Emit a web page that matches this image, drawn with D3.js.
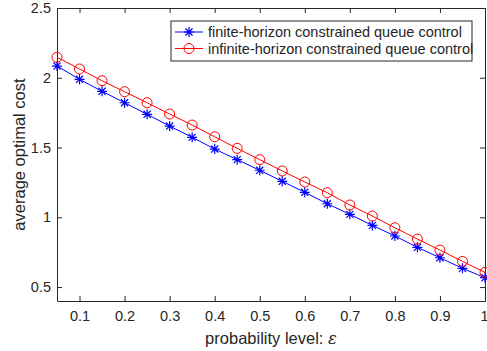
<!DOCTYPE html>
<html>
<head>
<meta charset="utf-8">
<script src="https://cdn.jsdelivr.net/npm/d3@7"></script>
<style>
  body { margin: 0; background: #fff; }
  text { font-family: "Liberation Sans", Arial, sans-serif; fill: #262626; }
</style>
</head>
<body>
<div id="chart"></div>
<script>
const epsilon = [0.05, 0.1, 0.15, 0.2, 0.25, 0.3, 0.35, 0.4, 0.45, 0.5,
                 0.55, 0.6, 0.65, 0.7, 0.75, 0.8, 0.85, 0.9, 0.95, 1];
const finiteCost = [2.084, 1.989, 1.903, 1.821, 1.738, 1.654, 1.573, 1.489, 1.413, 1.337,
                    1.258, 1.179, 1.097, 1.021, 0.942, 0.866, 0.785, 0.710, 0.634, 0.567];
const infiniteCost = [2.147, 2.063, 1.979, 1.900, 1.821, 1.740, 1.661, 1.577, 1.494, 1.413,
                      1.332, 1.253, 1.176, 1.088, 1.009, 0.925, 0.844, 0.765, 0.684, 0.605];
const xTicks = [0.1, 0.2, 0.3, 0.4, 0.5, 0.6, 0.7, 0.8, 0.9, 1];
const yTicks = [0.5, 1, 1.5, 2, 2.5];
const seriesNames = ["finite-horizon constrained queue control", "infinite-horizon constrained queue control"];

const width = 487, height = 351;
const margin = {top: 8, right: 2, bottom: 50, left: 57};
const axisColor = "#262626";

const svg = d3.select("#chart").append("svg")
    .attr("width", width)
    .attr("height", height);

const x = d3.scaleLinear().domain([0.05, 1]).range([margin.left, width - margin.right]);
const y = d3.scaleLinear().domain([0.4, 2.5]).range([height - margin.bottom, margin.top]);

const fmt = d => d3.format("")(d);

// axes (box with inward ticks)
const gx = svg.append("g")
    .attr("transform", `translate(0,${y(0.4)})`)
    .call(d3.axisBottom(x).tickValues(xTicks).tickFormat(fmt).tickSizeInner(-5).tickSizeOuter(0).tickPadding(10));
const gxTop = svg.append("g")
    .attr("transform", `translate(0,${y(2.5)})`)
    .call(d3.axisTop(x).tickValues(xTicks).tickFormat("").tickSizeInner(-5).tickSizeOuter(0));
const gy = svg.append("g")
    .attr("transform", `translate(${x(0.05)},0)`)
    .call(d3.axisLeft(y).tickValues(yTicks).tickFormat(fmt).tickSizeInner(-5).tickSizeOuter(0).tickPadding(6));
const gyRight = svg.append("g")
    .attr("transform", `translate(${x(1)},0)`)
    .call(d3.axisRight(y).tickValues(yTicks).tickFormat("").tickSizeInner(-5).tickSizeOuter(0));

[gx, gxTop, gy, gyRight].forEach(g => {
    g.select(".domain").attr("stroke", axisColor).attr("stroke-width", 1);
    g.selectAll(".tick line").attr("stroke", axisColor);
    g.selectAll(".tick text").style("font-size", "14.5px").attr("fill", axisColor)
        .style("font-family", "'Liberation Sans', Arial, sans-serif");
});
// keep the last x label inside the window
gx.selectAll(".tick text").filter(d => d === 1).attr("text-anchor", "end").attr("dx", "3");

// axis labels
const xl = svg.append("text")
    .attr("x", (x(0.05) + x(1)) / 2)
    .attr("y", height - 7)
    .attr("text-anchor", "middle")
    .style("font-size", "16.5px");
xl.append("tspan").text("probability level: ");
xl.append("tspan").text("\u03B5")
    .style("font-family", "'DejaVu Serif', serif")
    .style("font-style", "italic");

svg.append("text")
    .attr("transform", `translate(25,${(y(0.4) + y(2.5)) / 2}) rotate(-90)`)
    .attr("text-anchor", "middle")
    .style("font-size", "16.5px")
    .text("average optimal cost");

const line = d3.line()
    .x((d, i) => x(epsilon[i]))
    .y(d => y(d));

const starPath = s => {
    const r = s / 2, k = r * 0.707;
    return `M${-r},0L${r},0M0,${-r}L0,${r}M${-k},${-k}L${k},${k}M${-k},${k}L${k},${-k}`;
};

// finite-horizon (blue, asterisks)
svg.append("path")
    .datum(finiteCost)
    .attr("fill", "none")
    .attr("stroke", "#0000ff")
    .attr("stroke-width", 1)
    .attr("d", line);
svg.append("g").selectAll("path")
    .data(finiteCost)
    .enter().append("path")
    .attr("transform", (d, i) => `translate(${x(epsilon[i])},${y(d)})`)
    .attr("d", starPath(10))
    .attr("stroke", "#0000ff")
    .attr("stroke-width", 1.2)
    .attr("fill", "none");

// infinite-horizon (red, circles)
svg.append("path")
    .datum(infiniteCost)
    .attr("fill", "none")
    .attr("stroke", "#ff0000")
    .attr("stroke-width", 1)
    .attr("d", line);
svg.append("g").selectAll("circle")
    .data(infiniteCost)
    .enter().append("circle")
    .attr("cx", (d, i) => x(epsilon[i]))
    .attr("cy", d => y(d))
    .attr("r", 5)
    .attr("stroke", "#ff0000")
    .attr("stroke-width", 1)
    .attr("fill", "none");

// legend
const legend = svg.append("g").attr("transform", "translate(171,21)");
legend.append("rect")
    .attr("x", 0).attr("y", 0)
    .attr("width", 301).attr("height", 40)
    .attr("fill", "#fff")
    .attr("stroke", axisColor)
    .attr("stroke-width", 1);

const rows = [
    {name: seriesNames[0], color: "#0000ff", marker: "star"},
    {name: seriesNames[1], color: "#ff0000", marker: "circle"}
];
rows.forEach((r, i) => {
    const cy = 11 + i * 16.5;
    legend.append("line")
        .attr("x1", 4).attr("x2", 32)
        .attr("y1", cy).attr("y2", cy)
        .attr("stroke", r.color);
    if (r.marker === "star") {
        legend.append("path")
            .attr("transform", `translate(18,${cy})`)
            .attr("d", starPath(10))
            .attr("stroke", r.color)
            .attr("stroke-width", 1.2)
            .attr("fill", "none");
    } else {
        legend.append("circle")
            .attr("cx", 18).attr("cy", cy).attr("r", 5)
            .attr("stroke", r.color).attr("fill", "none");
    }
    legend.append("text")
        .attr("x", 37).attr("y", cy)
        .attr("dy", "0.35em")
        .style("font-size", "14.5px")
        .text(r.name);
});
</script>
</body>
</html>
